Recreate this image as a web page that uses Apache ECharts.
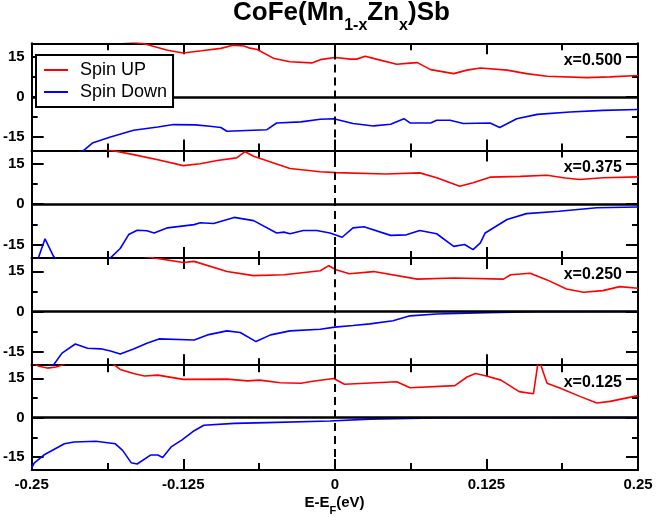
<!DOCTYPE html>
<html>
<head>
<meta charset="utf-8">
<script src="https://cdn.jsdelivr.net/npm/echarts@6.0.0/dist/echarts.min.js"></script>
<style>
html, body { margin: 0; padding: 0; background: #fff; }
#dosChart { width: 657px; height: 517px; }
</style>
</head>
<body>
<div id="dosChart"></div>
<script>
// DOS curves, [E-EF (eV), DOS] per point
var up500 = [[-0.25, 27], [-0.21, 23], [-0.18, 21], [-0.158, 19.9], [-0.138, 17.4], [-0.125, 16.4], [-0.11, 17.2], [-0.094, 18.1], [-0.084, 19.3], [-0.075, 19.0], [-0.071, 18.3], [-0.064, 17.7], [-0.05, 14.3], [-0.037, 13.1], [-0.019, 12.7], [-0.012, 13.9], [0.0, 14.7], [0.013, 14.1], [0.018, 14.1], [0.025, 15.2], [0.035, 14.0], [0.051, 12.2], [0.062, 12.6], [0.068, 12.8], [0.079, 10.2], [0.098, 8.7], [0.109, 10.0], [0.12, 10.8], [0.142, 10.0], [0.158, 8.7], [0.175, 7.7], [0.208, 7.2], [0.227, 7.5], [0.25, 8.0]];
var down500 = [[-0.25, -28], [-0.225, -23], [-0.207, -19.9], [-0.2, -17.2], [-0.185, -14.9], [-0.166, -12.4], [-0.146, -11.2], [-0.133, -10.3], [-0.115, -10.4], [-0.103, -10.9], [-0.094, -11.4], [-0.089, -12.8], [-0.056, -12.2], [-0.048, -9.7], [-0.028, -9.3], [-0.012, -8.3], [-0.001, -8.1], [0.015, -9.9], [0.032, -10.8], [0.046, -10.2], [0.057, -8.1], [0.062, -9.7], [0.079, -9.7], [0.084, -8.7], [0.095, -8.7], [0.106, -9.9], [0.128, -9.7], [0.136, -11.4], [0.15, -8.1], [0.167, -6.5], [0.194, -5.6], [0.221, -5.0], [0.25, -4.7]];
var up375 = [[-0.25, 28], [-0.21, 22.5], [-0.185, 20.1], [-0.166, 18.5], [-0.145, 16.5], [-0.125, 14.4], [-0.111, 15.1], [-0.097, 16.3], [-0.081, 17.3], [-0.074, 19.6], [-0.067, 17.9], [-0.037, 13.3], [-0.012, 12.1], [0.001, 11.8], [0.042, 11.3], [0.07, 11.7], [0.084, 9.9], [0.103, 6.7], [0.114, 8.0], [0.128, 10.1], [0.153, 10.4], [0.175, 10.8], [0.19, 9.8], [0.202, 9.2], [0.221, 9.9], [0.25, 10.2]];
var down375 = [[-0.25, -24], [-0.244, -19.4], [-0.239, -12.9], [-0.232, -19.4], [-0.225, -23], [-0.205, -25], [-0.19, -22], [-0.185, -20], [-0.177, -16.5], [-0.17, -11.3], [-0.163, -9.7], [-0.155, -9.9], [-0.149, -10.7], [-0.138, -8.8], [-0.116, -7.6], [-0.111, -6.9], [-0.1, -7.2], [-0.083, -4.9], [-0.067, -6.1], [-0.048, -10.7], [-0.042, -10.4], [-0.037, -11.0], [-0.026, -9.8], [-0.015, -9.8], [-0.004, -10.7], [0.006, -12.3], [0.015, -8.8], [0.024, -8.4], [0.046, -11.6], [0.059, -11.4], [0.07, -9.8], [0.084, -11.0], [0.098, -15.7], [0.107, -15.0], [0.114, -16.9], [0.12, -14.4], [0.124, -10.7], [0.133, -8.2], [0.142, -5.7], [0.158, -3.5], [0.185, -2.6], [0.216, -1.3], [0.25, -1.0]];
var up250 = [[-0.25, 30], [-0.2, 24], [-0.17, 21.5], [-0.149, 20.0], [-0.125, 18.3], [-0.116, 18.7], [-0.089, 14.9], [-0.067, 13.4], [-0.042, 13.7], [-0.012, 15.2], [-0.005, 17.1], [0.001, 15.6], [0.012, 14.1], [0.032, 14.9], [0.068, 12.1], [0.098, 12.5], [0.139, 12.1], [0.145, 13.7], [0.161, 14.3], [0.175, 11.8], [0.191, 8.4], [0.205, 7.2], [0.221, 7.8], [0.235, 9.3], [0.25, 8.7]];
var down250 = [[-0.25, -23], [-0.24, -22], [-0.232, -19.9], [-0.225, -15.5], [-0.214, -12.1], [-0.204, -13.7], [-0.193, -13.9], [-0.185, -14.7], [-0.177, -15.8], [-0.166, -14.0], [-0.155, -11.8], [-0.145, -10.2], [-0.116, -10.6], [-0.105, -8.7], [-0.089, -7.2], [-0.078, -7.8], [-0.065, -11.2], [-0.053, -8.7], [-0.037, -7.2], [-0.012, -6.6], [0.0, -5.8], [0.015, -5.2], [0.029, -4.6], [0.048, -3.4], [0.062, -1.6], [0.084, -0.9], [0.125, -0.4], [0.167, -0.1], [0.25, 0]];
var up125 = [[-0.25, 21], [-0.244, 19.6], [-0.237, 18.9], [-0.23, 19.3], [-0.226, 19.9], [-0.215, 22], [-0.195, 22.5], [-0.183, 20.5], [-0.177, 18.4], [-0.166, 16.8], [-0.157, 15.9], [-0.146, 16.2], [-0.125, 14.6], [-0.089, 14.7], [-0.072, 14.0], [-0.062, 14.3], [-0.045, 13.3], [-0.028, 13.1], [-0.018, 13.9], [-0.001, 14.9], [0.008, 12.7], [0.051, 13.7], [0.062, 11.4], [0.099, 12.2], [0.109, 15.5], [0.116, 16.8], [0.125, 15.9], [0.137, 14.3], [0.152, 9.9], [0.1638, 9.1], [0.168, 22.5], [0.175, 13.1], [0.186, 11.2], [0.202, 8.1], [0.216, 5.6], [0.227, 6.2], [0.25, 8.4]];
var down125 = [[-0.25, -19.3], [-0.248, -17.4], [-0.24, -14.3], [-0.223, -10.0], [-0.215, -9.3], [-0.197, -9.0], [-0.181, -10.0], [-0.175, -12.5], [-0.168, -17.2], [-0.163, -17.7], [-0.152, -14.3], [-0.146, -14.3], [-0.142, -15.2], [-0.135, -11.2], [-0.126, -8.5], [-0.116, -5.0], [-0.108, -2.9], [-0.083, -2.2], [-0.056, -1.9], [-0.004, -1.3], [0.029, -0.6], [0.084, -0.1], [0.25, 0]];

var panelLabels = ['x=0.500', 'x=0.375', 'x=0.250', 'x=0.125'];
var spinUp = [up500, up375, up250, up125];
var spinDown = [down500, down375, down250, down125];
var seriesNames = ['Spin UP', 'Spin Down'];
var yMajorTicks = [-15, 0, 15];
var yMinorTicks = [-7.5, 7.5];
var eMin = -0.25, eMax = 0.25, eStep = 0.125;
var dosMin = -20, dosMax = 20;

var FONT = 'Liberation Sans, Arial, Helvetica, sans-serif';
var myChart;

chartInit();
// 图表初始化
function chartInit() {
	myChart = echarts.init(document.getElementById('dosChart'));
	myChart.setOption(buildOption());
}

// 构建配置
function buildOption() {
	var grids = [], xAxes = [], yAxes = [], series = [], graphics = [];
	var panelTop = 43.3, panelH = 107.3;
	for (var i = 0; i < 4; i++) {
		var top = panelTop + i * panelH;
		var last = (i == 3);
		grids.push({ left: 31, right: 19, top: top, height: panelH });
		// bottom x axis
		xAxes.push({
			type: 'value', gridIndex: i, position: 'bottom', min: eMin, max: eMax, interval: eStep,
			axisLine: { show: true, onZero: false, lineStyle: { color: '#000', width: 2 } },
			axisTick: { show: true, inside: true, length: 11, lineStyle: { color: '#000', width: 2 } },
			minorTick: { show: true, splitNumber: 2, length: 7, lineStyle: { color: '#000', width: 2 } },
			axisLabel: { show: last, margin: 7, color: '#000', fontSize: 15, fontWeight: 'bold', fontFamily: FONT },
			splitLine: { show: false },
			name: last ? '{a|E-E}{s|F}{a|(eV)}{z| }' : '',
			nameLocation: 'middle', nameGap: 25,
			nameTextStyle: {
				rich: {
					a: { fontSize: 15, fontWeight: 'bold', fontFamily: FONT, color: '#000', lineHeight: 17, verticalAlign: 'top' },
					s: { fontSize: 11, fontWeight: 'bold', fontFamily: FONT, color: '#000', lineHeight: 10, verticalAlign: 'bottom' },
					z: { fontSize: 2, lineHeight: 21 }
				}
			}
		});
		// top x axis
		xAxes.push({
			type: 'value', gridIndex: i, position: 'top', min: eMin, max: eMax, interval: eStep,
			axisLine: { show: true, onZero: false, lineStyle: { color: '#000', width: 2 } },
			axisTick: { show: true, inside: true, length: 11, lineStyle: { color: '#000', width: 2 } },
			minorTick: { show: true, splitNumber: 2, length: 7, lineStyle: { color: '#000', width: 2 } },
			axisLabel: { show: false },
			splitLine: { show: false }
		});
		// y axes: left major/minor, right major/minor
		var sides = ['left', 'left', 'right', 'right'];
		for (var k = 0; k < 4; k++) {
			var major = (k % 2 == 0);
			yAxes.push({
				type: 'value', gridIndex: i, position: sides[k], min: dosMin, max: dosMax,
				axisLine: { show: major, onZero: false, lineStyle: { color: '#000', width: 2 } },
				axisTick: { show: true, inside: true, length: major ? 12 : 6, customValues: major ? yMajorTicks : yMinorTicks, lineStyle: { color: '#000', width: 2 } },
				axisLabel: { show: k == 0, customValues: yMajorTicks, margin: 7, color: '#000', fontSize: 15, fontWeight: 'bold', fontFamily: FONT },
				splitLine: { show: false }
			});
		}
		var xi = i * 2, yi = i * 4;
		// 零线 和 费米能级虚线
		series.push({
			type: 'line', name: 'guide', xAxisIndex: xi, yAxisIndex: yi, data: [], silent: true, z: 1,
			markLine: {
				silent: true, symbol: ['none', 'none'], label: { show: false }, animation: false,
				data: [
					{ yAxis: 0, lineStyle: { color: '#000', width: 2.5, type: 'solid' } },
					{ xAxis: 0, lineStyle: { color: '#000', width: 2, type: [8, 5] } }
				]
			}
		});
		series.push({
			type: 'line', name: seriesNames[0], xAxisIndex: xi, yAxisIndex: yi, data: spinUp[i],
			symbol: 'none', clip: true, z: 3,
			lineStyle: { color: '#ff0000', width: 1.6 }, itemStyle: { color: '#ff0000' }
		});
		series.push({
			type: 'line', name: seriesNames[1], xAxisIndex: xi, yAxisIndex: yi, data: spinDown[i],
			symbol: 'none', clip: true, z: 3,
			lineStyle: { color: '#0000ff', width: 1.6 }, itemStyle: { color: '#0000ff' }
		});
		graphics.push({
			type: 'text', right: 35, top: top + 9, z: 10,
			style: { text: panelLabels[i], fill: '#000', font: 'bold 16px ' + FONT }
		});
	}
	return {
		animation: false,
		backgroundColor: '#fff',
		title: {
			text: '{a|CoFe(Mn}{s|1-x}{a|Zn}{s|x}{a|)Sb}{z| }',
			left: 233, top: 0, padding: 0,
			textStyle: {
				rich: {
					a: { fontSize: 26, fontWeight: 'bold', fontFamily: FONT, color: '#000', lineHeight: 26, verticalAlign: 'top' },
					s: { fontSize: 16, fontWeight: 'bold', fontFamily: FONT, color: '#000', lineHeight: 14, verticalAlign: 'bottom' },
					z: { fontSize: 2, lineHeight: 34 }
				}
			}
		},
		legend: {
			data: seriesNames, orient: 'vertical', left: 36, top: 55,
			icon: 'rect', itemWidth: 24, itemHeight: 2, itemGap: 4,
			backgroundColor: '#fff', borderColor: '#000', borderWidth: 2,
			padding: [6, 6, 6, 8],
			textStyle: { color: '#000', fontSize: 18, fontFamily: FONT, padding: [0, 0, 0, 7] },
			z: 20
		},
		grid: grids,
		xAxis: xAxes,
		yAxis: yAxes,
		series: series,
		graphic: graphics
	};
}
</script>
</body>
</html>
